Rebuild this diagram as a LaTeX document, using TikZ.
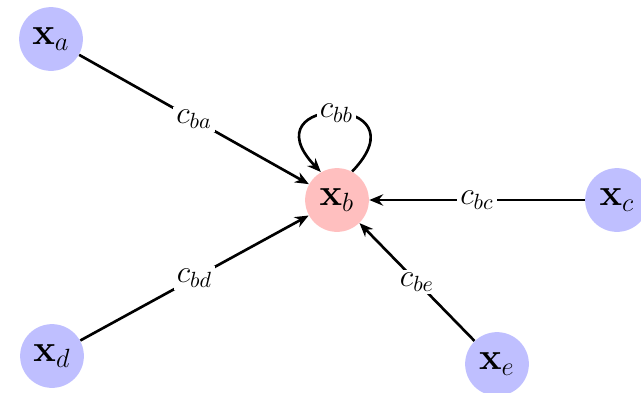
\documentclass[tikz,border=0pt]{standalone}
\usepackage{amsmath}
\usepackage{amssymb}
\usetikzlibrary{arrows.meta}

\begin{document}
\begin{tikzpicture}[x=0.16mm, y=-0.16mm, font=\LARGE,
    var/.style={circle, fill=blue!25, minimum size=10.2mm, inner sep=0pt},
    conn/.style={very thick, -{Stealth[length=2.2mm, width=1.8mm]}},
    wt/.style={fill=white, inner sep=1.5pt, font=\Large}]
  \useasboundingbox (0,0) rectangle (641,392);

  % the target variable, and the ones feeding it
  \node[var, fill=red!25] (b) at (337,200) {$\mathbf{x}_b$};
  \node[var] (a) at (51,39) {$\mathbf{x}_a$};
  \node[var] (c) at (617,200) {$\mathbf{x}_c$};
  \node[var] (d) at (52,356) {$\mathbf{x}_d$};
  \node[var] (e) at (497,364) {$\mathbf{x}_e$};

  % one weighted edge per neighbour, all pointing at b
  \foreach \n in {a, c, d, e}
    \draw[conn] (\n) -- node[wt] {$c_{b\n}$} (b);

  % self weight
  \draw[conn] (b.62) .. controls +(75,-78) and +(-75,-78) .. node[wt] {$c_{bb}$} (b.120);
\end{tikzpicture}
\end{document}
